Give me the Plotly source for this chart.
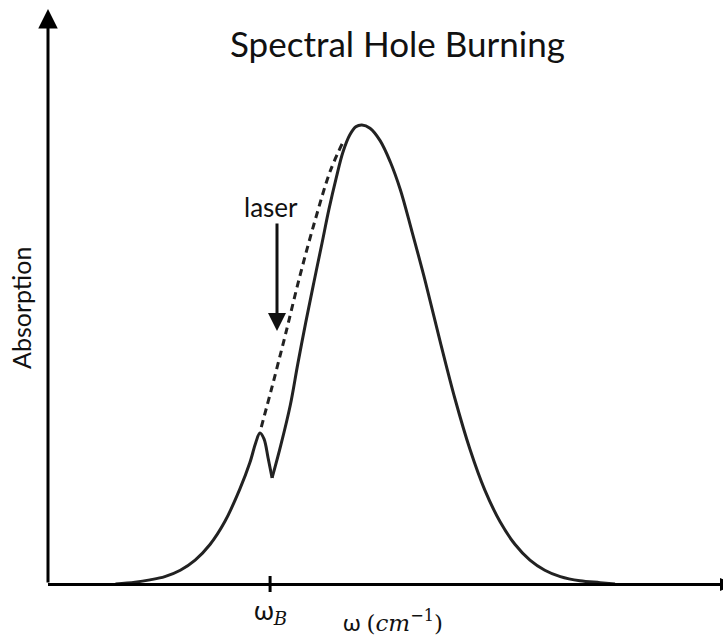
import plotly.graph_objects as go

# Data (omega in arbitrary units, absorption normalised to peak)
omega_B = 32.9

# burned spectrum, left of the hole minimum
solid_left_w = [10.0, 12.9, 15.1, 17.3, 19.6, 21.8, 24.0, 26.2, 28.4, 29.9, 30.8, 31.4, 32.0, 32.6, 33.2]
solid_left_a = [0.0, 0.004, 0.009, 0.016, 0.030, 0.052, 0.086, 0.136, 0.206, 0.264, 0.309, 0.329, 0.316, 0.275, 0.231]

# burned spectrum, right of the hole minimum
solid_right_w = [33.2, 34.5, 35.9, 37.0, 38.2, 39.4, 40.6, 41.6, 42.7, 43.7, 44.7, 45.6, 46.5,
                 47.7, 49.2, 50.7, 52.2, 53.9, 55.9, 58.1, 60.3, 62.5, 64.7, 67.0, 69.2,
                 71.4, 73.6, 75.9, 78.8, 81.8, 84.0]
solid_right_a = [0.231, 0.303, 0.390, 0.479, 0.571, 0.658, 0.743, 0.815, 0.885, 0.941, 0.978, 0.996, 1.0,
                 0.993, 0.966, 0.920, 0.859, 0.769, 0.659, 0.528, 0.403, 0.294, 0.205, 0.135, 0.086,
                 0.052, 0.030, 0.016, 0.007, 0.003, 0.0]

# original (un-burned) profile, dashed
dashed_w = [31.6, 33.2, 35.1, 37.3, 39.6, 41.8, 43.7]
dashed_a = [0.342, 0.430, 0.539, 0.670, 0.794, 0.899, 0.963]

X_MAX = 100
Y_MAX = 1.2527

W, H = 723, 641
ML, MR, MT, MB = 48, 0, 9, 57
PW, PH = W - ML - MR, H - MT - MB


def px(x):
    return (x - ML) / PW


def py(y):
    return (H - MB - y) / PH


CURVE = "#222222"
LABEL_FONT = "Lato"
SERIF = "DejaVu Serif"

fig = go.Figure()
fig.add_trace(go.Scatter(x=solid_left_w, y=solid_left_a, mode="lines",
                         line=dict(color=CURVE, width=3, shape="spline", smoothing=1.0),
                         hoverinfo="skip", showlegend=False))
fig.add_trace(go.Scatter(x=solid_right_w, y=solid_right_a, mode="lines",
                         line=dict(color=CURVE, width=3, shape="spline", smoothing=1.0),
                         hoverinfo="skip", showlegend=False))
fig.add_trace(go.Scatter(x=dashed_w, y=dashed_a, mode="lines",
                         line=dict(color=CURVE, width=3, dash="7px,5px", shape="spline"),
                         hoverinfo="skip", showlegend=False))

annotations = [
    # y axis with arrow
    dict(x=0, y=Y_MAX, ax=0, ay=0, xref="x", yref="y", axref="x", ayref="y",
         showarrow=True, arrowhead=2, arrowsize=1.3, arrowwidth=3, arrowcolor="#000", text=""),
    # title
    dict(x=px(397), y=py(43), xref="paper", yref="paper", showarrow=False,
         text="Spectral Hole Burning", font=dict(family=LABEL_FONT, size=35, color="#111"),
         xanchor="center", yanchor="middle"),
    # laser label and arrow
    dict(x=px(271), y=py(207), xref="paper", yref="paper", showarrow=False,
         text="laser", font=dict(family=LABEL_FONT, size=26, color="#111"),
         xanchor="center", yanchor="middle"),
    dict(x=px(277), y=py(331), xref="paper", yref="paper", ax=0, ay=-109,
         showarrow=True, arrowhead=2, arrowsize=1.2, arrowwidth=3, arrowcolor="#111", text=""),
    # y label
    dict(x=px(21), y=py(308), xref="paper", yref="paper", showarrow=False, textangle=-90,
         text="Absorption", font=dict(family=LABEL_FONT, size=25, color="#111"),
         xanchor="center", yanchor="middle"),
    # omega_B tick label
    dict(x=omega_B, y=py(611), xref="x", yref="paper", showarrow=False,
         text="ω<sub><span style='font-family:" + SERIF + "'><i>B</i></span></sub>",
         font=dict(family=LABEL_FONT, size=26, color="#111"),
         xanchor="center", yanchor="middle"),
    # x label
    dict(x=px(393), y=py(621), xref="paper", yref="paper", showarrow=False,
         text="ω <span style='font-family:" + SERIF + "'>(<i>cm</i><sup>−1</sup>)</span>",
         font=dict(family=LABEL_FONT, size=23, color="#111"),
         xanchor="center", yanchor="middle"),
]

shapes = [
    # x axis line, arrowhead mostly beyond the right edge
    dict(type="line", xref="paper", yref="paper", x0=0, x1=px(722), y0=py(584.5), y1=py(584.5),
         line=dict(color="#000", width=3)),
    dict(type="path", xref="paper", yref="paper",
         path="M {:.5f} {:.5f} L {:.5f} {:.5f} L {:.5f} {:.5f} Z".format(
             px(720), py(578), px(720), py(591), px(735), py(584.5)),
         fillcolor="#000", line=dict(color="#000", width=0)),
    # omega_B tick
    dict(type="line", xref="x", yref="paper", x0=omega_B, x1=omega_B,
         y0=py(592), y1=py(576), line=dict(color="#000", width=3)),
]

fig.update_layout(
    width=W, height=H,
    margin=dict(l=ML, r=MR, t=MT, b=MB),
    paper_bgcolor="white", plot_bgcolor="white",
    xaxis=dict(range=[0, X_MAX], visible=False, fixedrange=True),
    yaxis=dict(range=[0, Y_MAX], visible=False, fixedrange=True),
    annotations=annotations,
    shapes=shapes,
    showlegend=False,
)

fig.write_html("out.html")
